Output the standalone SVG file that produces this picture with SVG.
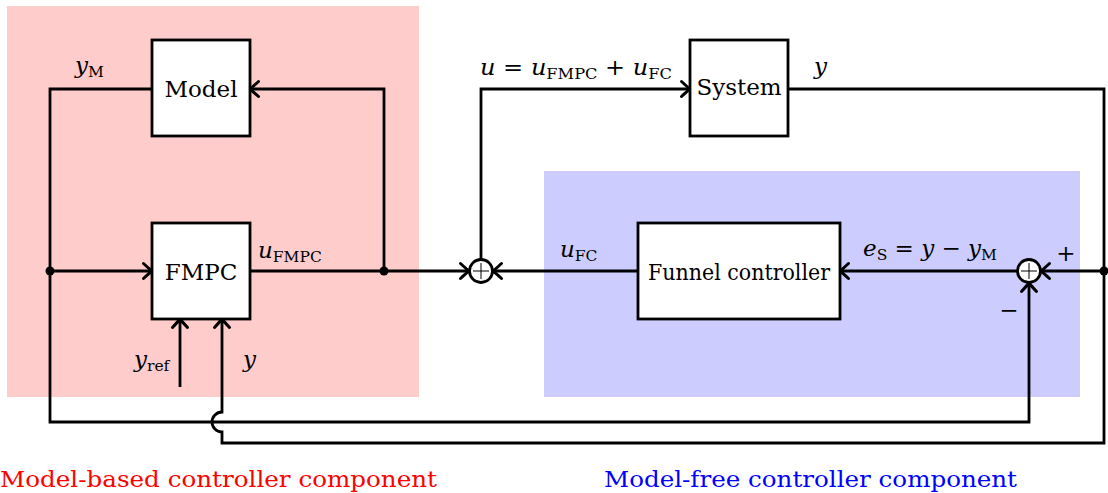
<svg xmlns="http://www.w3.org/2000/svg" width="1108" height="493" viewBox="0 0 1108 493" font-family="'DejaVu Serif', serif">
<style>
text{font-family:"DejaVu Serif","Liberation Serif",serif;font-size:23px;fill:#000}
.i{font-style:italic}
.s{font-size:15.5px}
.box{fill:#fff;stroke:#000;stroke-width:2.8}
.ln{fill:none;stroke:#000;stroke-width:2.8}
.arr{marker-end:url(#ar)}
.c{text-anchor:middle}
</style>
<defs>
<marker id="ar" markerUnits="userSpaceOnUse" markerWidth="22" markerHeight="22" viewBox="-11 -11 22 22" refX="0" refY="0" orient="auto">
<path d="M-8.5,-7.5 Q-2,-1.5 0,0 Q-2,1.5 -8.5,7.5" fill="none" stroke="#000" stroke-width="3" stroke-linecap="round"/>
</marker>
</defs>
<rect x="7" y="6" width="412" height="391" fill="#ffcccc"/>
<rect x="544" y="171" width="536" height="226" fill="#ccccff"/>
<g id="connectors">
<path class="ln arr" d="M152,89 H50 V422 H1029 V283"/>
<path class="ln arr" d="M50,271 H152"/>
<path class="ln arr" d="M250,271 H469"/>
<path class="ln arr" d="M384,271 V89 H250"/>
<path class="ln arr" d="M481,259 V89 H690"/>
<path class="ln arr" d="M788,89 H1104 V443 H222 V432 A10,10 0 0 1 222,412 V319"/>
<path class="ln arr" d="M1104,271 H1041"/>
<path class="ln arr" d="M1017,271 H840"/>
<path class="ln arr" d="M638,271 H493"/>
<path class="ln arr" d="M180,387 V319"/>
<circle cx="50" cy="271" r="4.5"/>
<circle cx="384" cy="271" r="4.5"/>
<circle cx="1104" cy="271" r="4.5"/>
</g>
<g id="model"><rect class="box" x="152" y="40" width="98" height="96"/><text class="c" x="201" y="97">Model</text></g>
<g id="fmpc"><rect class="box" x="152" y="223" width="98" height="96"/><text class="c" x="201" y="280">FMPC</text></g>
<g id="system"><rect class="box" x="690" y="40" width="98" height="96"/><text class="c" x="739" y="95">System</text></g>
<g id="funnel"><rect class="box" x="638" y="223" width="202" height="96"/><text class="c" x="739" y="280" textLength="182" lengthAdjust="spacingAndGlyphs">Funnel controller</text></g>
<g id="sum1"><circle cx="481" cy="271" r="11.5" class="box"/><path d="M473,271 H489 M481,263 V279" stroke="#000" stroke-width="1"/></g>
<g id="sum2"><circle cx="1029" cy="271" r="11.5" class="box"/><path d="M1021,271 H1037 M1029,263 V279" stroke="#000" stroke-width="1"/></g>
<g id="labels">
<text x="75" y="73"><tspan class="i">y</tspan><tspan class="s" dy="4">M</tspan></text>
<text x="258" y="258"><tspan class="i">u</tspan><tspan class="s" dy="4">FMPC</tspan></text>
<text x="134" y="367"><tspan class="i">y</tspan><tspan class="s" dy="4">ref</tspan></text>
<text x="243" y="367" class="i">y</text>
<text x="480" y="75" textLength="192" lengthAdjust="spacingAndGlyphs"><tspan class="i">u</tspan> = <tspan class="i">u</tspan><tspan class="s" dy="4">FMPC</tspan><tspan dy="-4"> + </tspan><tspan class="i">u</tspan><tspan class="s" dy="4">FC</tspan></text>
<text x="814" y="74" class="i">y</text>
<text x="560" y="257"><tspan class="i">u</tspan><tspan class="s" dy="4">FC</tspan></text>
<text x="863" y="256"><tspan class="i">e</tspan><tspan class="s" dy="4">S</tspan><tspan dy="-4"> = </tspan><tspan class="i">y</tspan> − <tspan class="i">y</tspan><tspan class="s" dy="4">M</tspan></text>
<text class="c" x="1066" y="261">+</text>
<text class="c" x="1009" y="318">−</text>
<text x="0" y="487" style="fill:#ff0000" textLength="437" lengthAdjust="spacingAndGlyphs">Model-based controller component</text>
<text x="604" y="487" style="fill:#0000ff" textLength="413" lengthAdjust="spacingAndGlyphs">Model-free controller component</text>
</g>
</svg>
